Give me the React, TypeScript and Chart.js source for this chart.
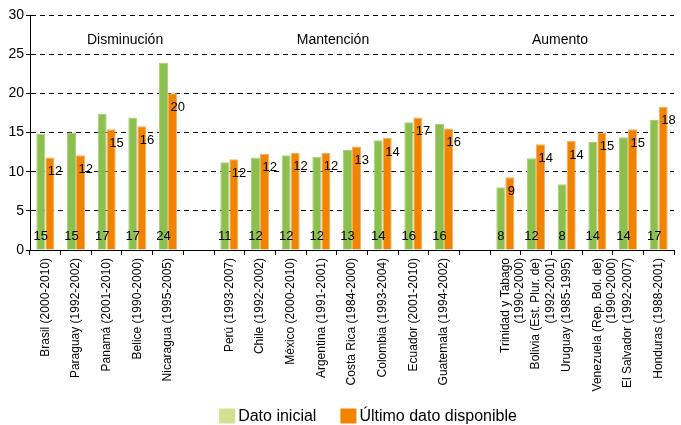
import React, { useEffect, useRef } from "react";
import { Chart, registerables } from "chart.js";

Chart.register(...registerables);

const categories: (string | string[])[] = [
  "Brasil (2000-2010)",
  "Paraguay (1992-2002)",
  "Panamá (2001-2010)",
  "Belice (1990-2000)",
  "Nicaragua (1995-2005)",
  "",
  "Perú (1993-2007)",
  "Chile (1992-2002)",
  "México (2000-2010)",
  "Argentina (1991-2001)",
  "Costa Rica (1984-2000)",
  "Colombia (1993-2004)",
  "Ecuador (2001-2010)",
  "Guatemala (1994-2002)",
  " ",
  ["Trinidad y Tabago", "(1990-2000)"],
  ["Bolivia (Est. Plur. de)", "(1992-2001)"],
  "Uruguay (1985-1995)",
  ["Venezuela (Rep. Bol. de)", "(1990-2000)"],
  "El Salvador (1992-2007)",
  "Honduras (1988-2001)",
];

const datoInicial: (number | null)[] = [
  14.8, 15.0, 17.4, 16.9, 23.9, null, 11.2, 11.8, 12.1, 11.9, 12.8, 14.0, 16.3,
  16.1, null, 8.0, 11.7, 8.4, 13.8, 14.4, 16.6,
];

const ultimoDato: (number | null)[] = [
  11.8, 12.1, 15.4, 15.8, 20.0, null, 11.6, 12.3, 12.4, 12.4, 13.2, 14.3, 16.9,
  15.5, null, 9.3, 13.5, 13.9, 15.0, 15.4, 18.3,
];

const groupNames = ["Disminución", "Mantención", "Aumento"];
const groupCenters = [2.6, 9.38, 16.78];
const groupLevel = 26.8;

const yTicks = [0, 5, 10, 15, 20, 25, 30];

const seriesNames = ["Dato inicial", "Último dato disponible"];

const FONT = "'Liberation Sans', Arial, sans-serif";
const GREEN = "#8CBF4E";
const GREEN_BORDER = "#A8D07A";
const ORANGE = "#F08300";
const ORANGE_BORDER = "#F6B066";
const LEGEND_GREEN = "#D2E18E";

const labelsPlugin = {
  id: "valueLabels",
  afterDatasetsDraw(chart: any) {
    const ctx = chart.ctx;
    const y0 = chart.scales.y.getPixelForValue(0);
    ctx.save();
    ctx.fillStyle = "#000";
    ctx.font = `13px ${FONT}`;
    ctx.textBaseline = "middle";
    const m0 = chart.getDatasetMeta(0);
    m0.data.forEach((bar: any, i: number) => {
      const v = datoInicial[i];
      if (v == null) return;
      ctx.textAlign = "center";
      ctx.fillText(String(Math.round(v)), bar.x, y0 - 14);
    });
    const m1 = chart.getDatasetMeta(1);
    m1.data.forEach((bar: any, i: number) => {
      const v = ultimoDato[i];
      if (v == null) return;
      ctx.textAlign = "left";
      ctx.fillText(String(Math.round(v)), bar.x - 2, bar.y + 14);
    });
    // group headers
    ctx.font = `14px ${FONT}`;
    ctx.textAlign = "center";
    const gy = chart.scales.y.getPixelForValue(groupLevel);
    groupNames.forEach((g, i) => {
      ctx.fillText(g, chart.scales.x.getPixelForValue(groupCenters[i]), gy);
    });
    ctx.restore();
  },
};

const legendPlugin = {
  id: "customLegend",
  afterDraw(chart: any) {
    const ctx = chart.ctx;
    ctx.save();
    ctx.font = `16px ${FONT}`;
    ctx.textBaseline = "middle";
    ctx.textAlign = "left";
    const colors = [LEGEND_GREEN, ORANGE];
    const boxW = 16;
    const boxH = 15;
    const gap = 3;
    const itemGap = 24;
    const widths = seriesNames.map((n) => boxW + gap + ctx.measureText(n).width);
    const total = widths.reduce((a, b) => a + b, 0) + itemGap;
    let x = 368 - total / 2;
    const cy = 416;
    seriesNames.forEach((n, i) => {
      ctx.fillStyle = colors[i];
      ctx.fillRect(x, cy - boxH / 2, boxW, boxH);
      ctx.fillStyle = "#000";
      ctx.fillText(n, x + boxW + gap, cy + 1);
      x += widths[i] + itemGap;
    });
    ctx.restore();
  },
};

export default function App() {
  const ref = useRef<HTMLCanvasElement | null>(null);
  useEffect(() => {
    if (!ref.current) return;
    const chart = new Chart(ref.current, {
      type: "bar",
      data: {
        labels: categories as any,
        datasets: [
          {
            label: seriesNames[0],
            data: datoInicial as any,
            backgroundColor: GREEN,
            borderColor: GREEN_BORDER,
            borderWidth: 1,
            borderSkipped: "start",
            categoryPercentage: 0.59,
            barPercentage: 1,
          },
          {
            label: seriesNames[1],
            data: ultimoDato as any,
            backgroundColor: ORANGE,
            borderColor: ORANGE_BORDER,
            borderWidth: 1,
            borderSkipped: "start",
            categoryPercentage: 0.59,
            barPercentage: 1,
          },
        ],
      },
      options: {
        animation: false,
        responsive: false,
        layout: { padding: { top: 15, right: 7, left: 0, bottom: 0 } },
        plugins: {
          legend: { display: false },
          tooltip: { enabled: false },
          title: { display: false },
        },
        scales: {
          x: {
            offset: true,
            grid: {
              display: true,
              drawOnChartArea: false,
              drawTicks: true,
              tickLength: 5,
              color: "#000",
              offset: true,
            },
            border: { display: true, color: "#000", width: 1 },
            ticks: {
              autoSkip: false,
              minRotation: 90,
              maxRotation: 90,
              padding: 3,
              color: "#000",
              font: { family: FONT, size: 12 },
            },
            afterFit(scale: any) {
              scale.height = 175;
            },
          },
          y: {
            min: 0,
            max: 30,
            afterBuildTicks(scale: any) {
              scale.ticks = yTicks.map((v) => ({ value: v }));
            },
            grid: {
              color: "#000",
              lineWidth: 1,
              tickLength: 4,
              tickColor: "#000",
              tickBorderDash: [],
            },
            border: { display: true, color: "#000", width: 1, dash: [5, 4] },
            ticks: {
              padding: 2,
              color: "#000",
              font: { family: FONT, size: 14 },
            },
            afterFit(scale: any) {
              scale.width = 30;
            },
          },
        },
      },
      plugins: [labelsPlugin, legendPlugin],
    });
    return () => chart.destroy();
  }, []);
  return (
    <div style={{ position: "fixed", left: 0, top: 0, width: 681, height: 425, background: "#fff" }}>
      <canvas ref={ref} width={681} height={425} style={{ width: 681, height: 425 }} />
    </div>
  );
}
